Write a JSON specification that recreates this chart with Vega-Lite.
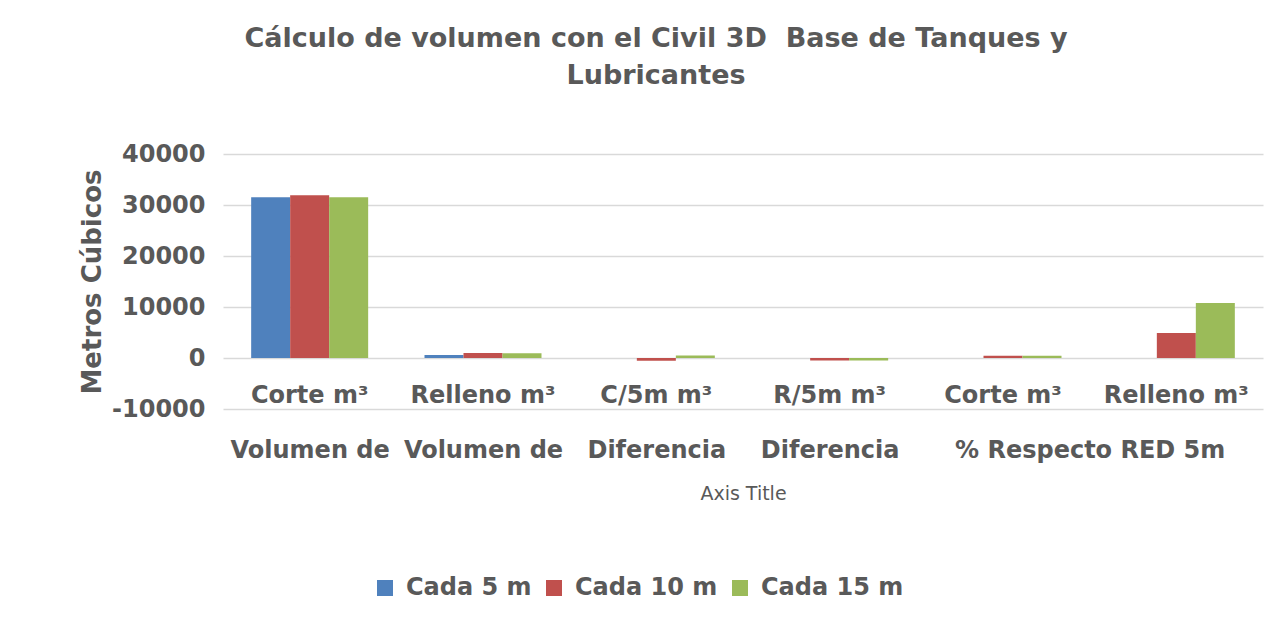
{
  "$schema": "https://vega.github.io/schema/vega-lite/v6.json",
  "width": 1040,
  "height": 255,
  "autosize": {"type": "none"},
  "padding": {"left": 223, "top": 154, "right": 17, "bottom": 221},
  "background": "white",
  "title": {
    "text": ["Cálculo de volumen con el Civil 3D\u00a0 Base de Tanques y", "Lubricantes"],
    "font": "DejaVu Sans",
    "fontSize": 27,
    "fontWeight": "bold",
    "color": "#595959",
    "lineHeight": 37,
    "anchor": "middle",
    "dx": -87,
    "offset": 52
  },
  "layer": [
    {
      "data": {
        "values": [
          {"k": 1, "s": "Cada 5 m", "v": 31500},
          {"k": 1, "s": "Cada 10 m", "v": 31900},
          {"k": 1, "s": "Cada 15 m", "v": 31500},
          {"k": 2, "s": "Cada 5 m", "v": 600},
          {"k": 2, "s": "Cada 10 m", "v": 1000},
          {"k": 2, "s": "Cada 15 m", "v": 950},
          {"k": 3, "s": "Cada 5 m", "v": 0},
          {"k": 3, "s": "Cada 10 m", "v": -550},
          {"k": 3, "s": "Cada 15 m", "v": 500},
          {"k": 4, "s": "Cada 5 m", "v": 0},
          {"k": 4, "s": "Cada 10 m", "v": -500},
          {"k": 4, "s": "Cada 15 m", "v": -500},
          {"k": 5, "s": "Cada 5 m", "v": 0},
          {"k": 5, "s": "Cada 10 m", "v": 450},
          {"k": 5, "s": "Cada 15 m", "v": 450},
          {"k": 6, "s": "Cada 5 m", "v": 0},
          {"k": 6, "s": "Cada 10 m", "v": 4900},
          {"k": 6, "s": "Cada 15 m", "v": 10800}
        ]
      },
      "mark": {"type": "bar"},
      "encoding": {
        "x": {
          "field": "k",
          "type": "ordinal",
          "scale": {"paddingInner": 0.325, "paddingOuter": 0.1625},
          "axis": {
            "title": null,
            "labelAngle": 0,
            "labelExpr": "['Corte m³','Relleno m³','C/5m m³','R/5m m³','Corte m³','Relleno m³'][datum.value-1]",
            "domain": false,
            "ticks": false,
            "labelPadding": -26,
            "labelOverlap": false,
            "labelLimit": 0,
            "labelFont": "DejaVu Sans",
            "labelFontWeight": "bold",
            "labelFontSize": 24,
            "labelColor": "#595959"
          }
        },
        "xOffset": {
          "field": "s",
          "type": "nominal",
          "sort": ["Cada 5 m", "Cada 10 m", "Cada 15 m"],
          "scale": {"paddingInner": 0, "paddingOuter": 0}
        },
        "y": {
          "field": "v",
          "type": "quantitative",
          "scale": {"domain": [-10000, 40000], "nice": false},
          "axis": {
            "title": "Metros Cúbicos",
            "values": [-10000, 0, 10000, 20000, 30000, 40000],
            "labelExpr": "'' + datum.value",
            "domain": false,
            "ticks": false,
            "grid": true,
            "gridColor": "#d9d9d9",
            "gridWidth": 1.5,
            "labelPadding": 18,
            "labelFont": "DejaVu Sans",
            "labelFontWeight": "bold",
            "labelFontSize": 24,
            "labelColor": "#595959",
            "titleFont": "DejaVu Sans",
            "titleFontWeight": "bold",
            "titleFontSize": 26,
            "titleColor": "#595959",
            "titlePadding": 6
          }
        },
        "color": {
          "field": "s",
          "type": "nominal",
          "sort": ["Cada 5 m", "Cada 10 m", "Cada 15 m"],
          "scale": {"domain": ["Cada 5 m", "Cada 10 m", "Cada 15 m"], "range": ["#4f81bd", "#c0504d", "#9bbb59"]},
          "legend": {
            "title": null,
            "orient": "none",
            "direction": "horizontal",
            "legendX": 150,
            "legendY": 422,
            "symbolType": "square",
            "symbolSize": 256,
            "symbolStrokeWidth": 0,
            "labelFont": "DejaVu Sans",
            "labelFontWeight": "bold",
            "labelFontSize": 24,
            "labelColor": "#595959",
            "labelOffset": 9,
            "columnPadding": 10
          }
        }
      }
    },
    {
      "data": {"values": [{"p": 0.5}, {"p": 1.5}, {"p": 2.5}, {"p": 3.5}, {"p": 5}]},
      "mark": {"type": "point", "opacity": 0},
      "encoding": {
        "x": {
          "field": "p",
          "type": "quantitative",
          "scale": {"domain": [0, 6], "nice": false, "zero": false},
          "axis": {
            "orient": "bottom",
            "values": [0.5, 1.5, 2.5, 3.5, 5],
            "labelExpr": "datum.value == 5 ? '% Respecto RED 5m' : (datum.value < 2 ? 'Volumen de' : 'Diferencia')",
            "grid": false,
            "domain": false,
            "ticks": false,
            "labelPadding": 29,
            "labelOverlap": false,
            "labelFlush": false,
            "labelBound": false,
            "labelLimit": 0,
            "labelFont": "DejaVu Sans",
            "labelFontWeight": "bold",
            "labelFontSize": 24,
            "labelColor": "#595959",
            "title": "Axis Title",
            "titleFont": "DejaVu Sans",
            "titleFontWeight": "normal",
            "titleFontSize": 19,
            "titleColor": "#595959",
            "titlePadding": 22
          }
        }
      }
    }
  ],
  "resolve": {"scale": {"x": "independent"}, "axis": {"x": "independent"}},
  "config": {"view": {"stroke": null}}
}
